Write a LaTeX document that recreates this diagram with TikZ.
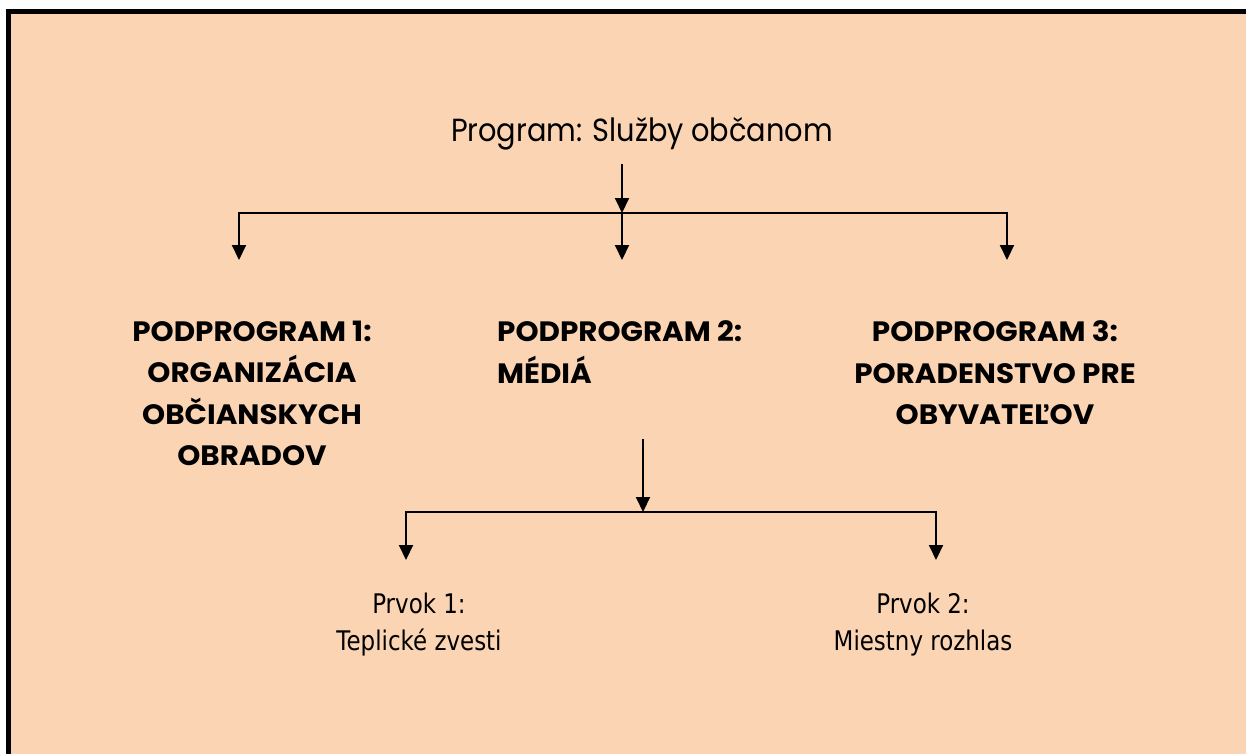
\documentclass[tikz,border=0pt]{standalone}
\usepackage{fontspec}
\usetikzlibrary{arrows.meta}
\newfontfamily\titlefont[FakeStretch=0.9]{Poppins}
\newfontfamily\headfont[FakeStretch=1.05]{Poppins}
\newfontfamily\itemfont[FakeStretch=0.85]{DejaVu Sans}
\definecolor{peach}{RGB}{251,212,180}
\begin{document}
\begin{tikzpicture}[x=1pt,y=-1pt,
  arr/.style={line width=2pt,-{Triangle[width=14pt,length=15pt]}},
  titletext/.style={inner sep=0pt,font=\titlefont\fontsize{32}{40}\selectfont},
  headtext/.style={inner sep=0pt,font=\headfont\bfseries\fontsize{28}{41.5}\selectfont},
  itemtext/.style={inner sep=0pt,align=center,font=\itemfont\fontsize{27}{37}\selectfont}]
\useasboundingbox (0,0) rectangle (1246,753);
\clip (0,0) rectangle (1246,753);
% page background and framed panel
\fill[white] (0,0) rectangle (1246,753);
\filldraw[fill=peach,draw=black,line width=5pt] (8.5,11.5) rectangle (1248,780);

% programme and sub-programmes
\node[titletext,anchor=base] (prog) at (642,141) {Program: Služby občanom};
\node[headtext,anchor=north,align=center] (sub1) at (252,320.5)
  {PODPROGRAM 1:\\ORGANIZÁCIA\\OBČIANSKYCH\\OBRADOV};
\node[headtext,anchor=north west,align=left] (sub2) at (497,320.5)
  {PODPROGRAM 2:\\MÉDIÁ};
\node[headtext,anchor=north,align=center] (sub3) at (995,320.5)
  {PODPROGRAM 3:\\PORADENSTVO PRE\\OBYVATEĽOV};

% elements of sub-programme 2
\node[itemtext,anchor=north] (el1) at (419,593) {Prvok 1:\\Teplické zvesti};
\node[itemtext,anchor=north] (el2) at (923,593) {Prvok 2:\\Miestny rozhlas};

% first level branching
\coordinate (a0) at (622,164);
\coordinate (j1) at (622,213);
\coordinate (d1) at (239,260);
\coordinate (d2) at (622,260);
\coordinate (d3) at (1007,260);
\draw[arr] (a0) -- (j1);
\draw[arr] (j1) -| (d1);
\draw[arr] (j1) -- (d2);
\draw[arr] (j1) -| (d3);

% second level branching
\coordinate (b0) at (643,439);
\coordinate (j2) at (643,512);
\coordinate (e1) at (406,560);
\coordinate (e2) at (936,560);
\draw[arr] (b0) -- (j2);
\draw[arr] (j2) -| (e1);
\draw[arr] (j2) -| (e2);
\end{tikzpicture}
\end{document}
